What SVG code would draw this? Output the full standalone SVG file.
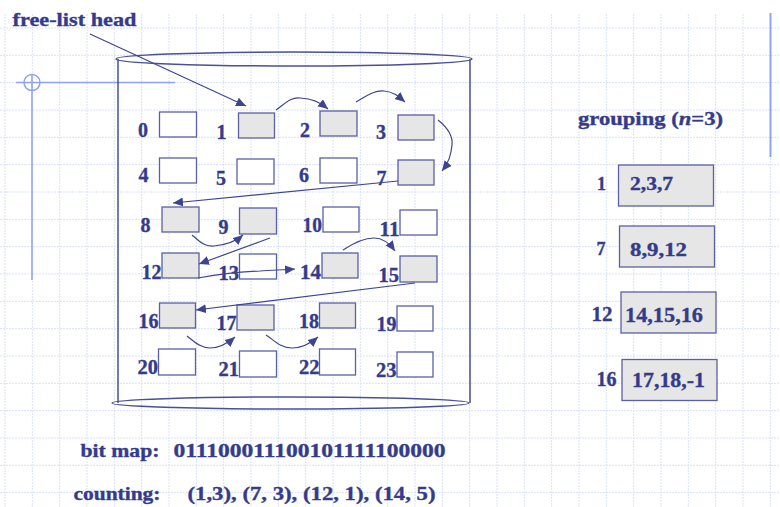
<svg xmlns="http://www.w3.org/2000/svg" width="780" height="507" viewBox="0 0 780 507">
<style>
.grid{stroke:#d9e1f6;stroke-width:1;stroke-dasharray:2,1;fill:none}
.deco{stroke:#8ea3ee;stroke-width:1.5;fill:none}
.cyl{stroke:#4a5096;stroke-width:1.5;fill:none}
.blk{stroke:#5a60a0;stroke-width:1.3;fill:#ffffff}
.used{fill:#e6e6e6}
.grp{stroke:#5a60a0;stroke-width:1.3;fill:#e6e6e6}
.lbl{font-family:"Liberation Serif","Times New Roman",serif;font-weight:bold;font-size:20px;fill:#343b8b;stroke:#343b8b;stroke-width:0.35}
.t{font-family:"Liberation Serif","Times New Roman",serif;font-weight:bold;fill:#343b8b;stroke:#343b8b;stroke-width:0.35}
.con{stroke:#3d4591;stroke-width:1.2;fill:none;marker-end:url(#ah)}
</style>
<defs>
<marker id="ah" markerUnits="userSpaceOnUse" markerWidth="12" markerHeight="10" refX="10" refY="4.5" orient="auto">
<path d="M0,0 L10,4.5 L0,9 Z" fill="#3d4591"/>
</marker>
</defs>
<rect width="780" height="507" fill="#ffffff"/>
<g id="grid">
<path class="grid" d="M5,14V507M32.33,14V507M59.67,14V507M87,14V507M114.33,14V507M141.67,14V507M169,14V507M196.33,14V507M223.67,14V507M251,14V507M278.33,14V507M305.67,14V507M333,14V507M360.33,14V507M387.67,14V507M415,14V507M442.33,14V507M469.67,14V507M497,14V507M524.33,14V507M551.67,14V507M579,14V507M606.33,14V507M633.67,14V507M661,14V507M688.33,14V507M715.67,14V507M743,14V507M770.33,14V507"/>
<path class="grid" d="M0,28H780M0,55.33H780M0,82.67H780M0,110H780M0,137.33H780M0,164.67H780M0,192H780M0,219.33H780M0,246.67H780M0,274H780M0,301.33H780M0,328.67H780M0,356H780M0,383.33H780M0,410.67H780M0,438H780M0,465.33H780M0,492.67H780"/>
</g>
<g id="decoration">
<path class="deco" d="M16,82.5H175M32,74V280"/>
<circle class="deco" cx="32" cy="82.5" r="8"/>
<path d="M770.5,13V157" stroke="#8ea4f0" stroke-width="2"/>
</g>
<g id="cylinder">
<ellipse class="cyl" cx="294" cy="59" rx="178" ry="7"/>
<path class="cyl" d="M118,59V403M470,59V403"/>
<ellipse class="cyl" cx="290.5" cy="403" rx="178.5" ry="6"/>
</g>
<g id="blocks">
<g id="b0"><rect class="blk" x="159.5" y="112" width="37" height="25"/><text class="lbl" x="138" y="137">0</text></g>
<g id="b1"><rect class="blk used" x="238.5" y="113" width="36" height="25"/><text class="lbl" x="216.5" y="138.5">1</text></g>
<g id="b2"><rect class="blk used" x="320" y="111" width="37" height="25"/><text class="lbl" x="300" y="137">2</text></g>
<g id="b3"><rect class="blk used" x="398" y="115" width="36" height="25"/><text class="lbl" x="376" y="139">3</text></g>
<g id="b4"><rect class="blk" x="159.5" y="158" width="37" height="25"/><text class="lbl" x="138.5" y="182">4</text></g>
<g id="b5"><rect class="blk" x="237" y="159" width="37" height="25"/><text class="lbl" x="216" y="184.5">5</text></g>
<g id="b6"><rect class="blk" x="320" y="158" width="37" height="25"/><text class="lbl" x="299" y="182">6</text></g>
<g id="b7"><rect class="blk used" x="398" y="160" width="36" height="25"/><text class="lbl" x="376.5" y="184.5">7</text></g>
<g id="b8"><rect class="blk used" x="162" y="207" width="37" height="25"/><text class="lbl" x="140.5" y="232">8</text></g>
<g id="b9"><rect class="blk used" x="239.5" y="208" width="37" height="26"/><text class="lbl" x="218.5" y="233.5">9</text></g>
<g id="b10"><rect class="blk" x="323" y="207" width="36" height="25"/><text class="lbl" x="302.5" y="232" textLength="19.5" lengthAdjust="spacingAndGlyphs">10</text></g>
<g id="b11"><rect class="blk" x="400" y="210" width="37" height="25"/><text class="lbl" x="379.5" y="236" textLength="20" lengthAdjust="spacingAndGlyphs">11</text></g>
<g id="b12"><rect class="blk used" x="162" y="253" width="37" height="25"/><text class="lbl" x="141.5" y="278.5" textLength="20" lengthAdjust="spacingAndGlyphs">12</text></g>
<g id="b13"><rect class="blk" x="239.5" y="254" width="37" height="25"/><text class="lbl" x="218.5" y="280" textLength="20.5" lengthAdjust="spacingAndGlyphs">13</text></g>
<g id="b14"><rect class="blk used" x="322" y="253" width="36" height="25"/><text class="lbl" x="300" y="278.5" textLength="21" lengthAdjust="spacingAndGlyphs">14</text></g>
<g id="b15"><rect class="blk used" x="400" y="256" width="37" height="26"/><text class="lbl" x="378.5" y="282" textLength="20.5" lengthAdjust="spacingAndGlyphs">15</text></g>
<g id="b16"><rect class="blk used" x="159.5" y="303" width="36" height="25"/><text class="lbl" x="138.5" y="328" textLength="20" lengthAdjust="spacingAndGlyphs">16</text></g>
<g id="b17"><rect class="blk used" x="237" y="305" width="37" height="25"/><text class="lbl" x="216.5" y="329.5" textLength="20" lengthAdjust="spacingAndGlyphs">17</text></g>
<g id="b18"><rect class="blk used" x="319.5" y="303" width="36" height="25"/><text class="lbl" x="299" y="328" textLength="20" lengthAdjust="spacingAndGlyphs">18</text></g>
<g id="b19"><rect class="blk" x="397" y="306" width="36" height="25"/><text class="lbl" x="376.5" y="330.5" textLength="20" lengthAdjust="spacingAndGlyphs">19</text></g>
<g id="b20"><rect class="blk" x="158.5" y="349" width="37" height="26"/><text class="lbl" x="137.5" y="374" textLength="20.5" lengthAdjust="spacingAndGlyphs">20</text></g>
<g id="b21"><rect class="blk" x="239.5" y="351" width="37" height="26"/><text class="lbl" x="218.5" y="376" textLength="20.5" lengthAdjust="spacingAndGlyphs">21</text></g>
<g id="b22"><rect class="blk" x="319.5" y="349" width="36" height="26"/><text class="lbl" x="299" y="374" textLength="20.5" lengthAdjust="spacingAndGlyphs">22</text></g>
<g id="b23"><rect class="blk" x="397" y="352" width="36" height="25"/><text class="lbl" x="376" y="377" textLength="20.5" lengthAdjust="spacingAndGlyphs">23</text></g>
</g>
<g id="connectors">
<path class="con" d="M90,34L246,106"/>
<path class="con" d="M276,110C285,104 290,97 300,98C312,99 318,101 328,109"/>
<path class="con" d="M356,102C365,97 374,90 384,91C394,92 398,96 405,102"/>
<path class="con" d="M438,120C448,128 453,136 452,145C451,155 449,162 442,171"/>
<path class="con" d="M398,181L173,203"/>
<path class="con" d="M192,235C198,240 204,247 214,246C226,245 236,241 243,235"/>
<path class="con" d="M270,238L199,264"/>
<path class="con" d="M198,278C220,274 240,272 260,271C272,270 282,270 295,269"/>
<path class="con" d="M343,250C352,244 362,238 374,238C384,238 390,244 395,251"/>
<path class="con" d="M415,283L196,310"/>
<path class="con" d="M187,336C194,341 200,348 210,348C220,348 228,343 235,337"/>
<path class="con" d="M266,335C274,340 280,348 292,348C303,348 311,343 318,337"/>
</g>
<g id="titles">
<text class="t" x="12.5" y="26" font-size="19" textLength="124" lengthAdjust="spacingAndGlyphs">free-list head</text>
<text class="t" x="578" y="125" font-size="19" textLength="145" lengthAdjust="spacingAndGlyphs">grouping (<tspan font-style="italic">n</tspan>=3)</text>
</g>
<g id="grouping">
<g id="g1"><rect class="grp" x="618.5" y="165" width="95" height="41"/><text class="t" x="597" y="190" font-size="18">1</text><text class="t" x="630" y="190" font-size="18" textLength="43" lengthAdjust="spacingAndGlyphs">2,3,7</text></g>
<g id="g7"><rect class="grp" x="619.5" y="226" width="95" height="41"/><text class="t" x="596.5" y="255" font-size="18" font-weight="normal" stroke-width="0">7</text><text class="t" x="630" y="256" font-size="18" textLength="57" lengthAdjust="spacingAndGlyphs">8,9,12</text></g>
<g id="g12"><rect class="grp" x="621" y="292" width="95" height="41"/><text class="t" x="591.5" y="320.5" font-size="20" textLength="21" lengthAdjust="spacingAndGlyphs">12</text><text class="t" x="625" y="321.5" font-size="22" textLength="78" lengthAdjust="spacingAndGlyphs">14,15,16</text></g>
<g id="g16"><rect class="grp" x="622" y="359.5" width="95" height="41"/><text class="t" x="596.5" y="386" font-size="20" textLength="20" lengthAdjust="spacingAndGlyphs">16</text><text class="t" x="632" y="386.5" font-size="22" textLength="73" lengthAdjust="spacingAndGlyphs">17,18,-1</text></g>
</g>
<g id="footer">
<text class="t" x="80.5" y="457" font-size="19" textLength="79" lengthAdjust="spacingAndGlyphs">bit map:</text>
<text class="t" x="173.5" y="457" font-size="19" textLength="272" lengthAdjust="spacingAndGlyphs">011100011100101111100000</text>
<text class="t" x="73.5" y="500" font-size="19" textLength="87" lengthAdjust="spacingAndGlyphs">counting:</text>
<text class="t" x="187.5" y="500" font-size="19" textLength="248" lengthAdjust="spacingAndGlyphs">(1,3), (7, 3), (12, 1), (14, 5)</text>
</g>
</svg>
